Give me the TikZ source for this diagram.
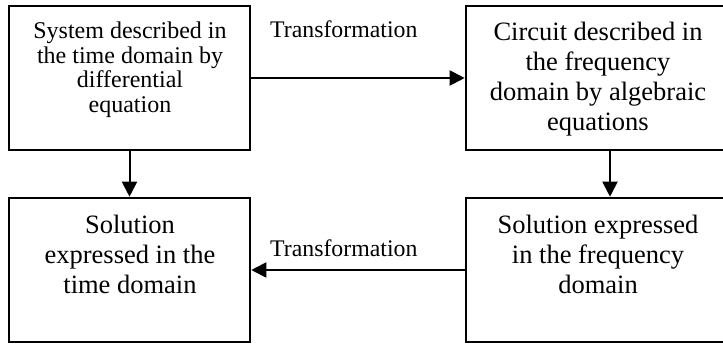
\documentclass[tikz,border=0pt]{standalone}
\usepackage{fontspec}
\setmainfont{Liberation Serif}
\usetikzlibrary{arrows.meta}
\begin{document}
\begin{tikzpicture}[x=1pt,y=-1pt]
  
  \tikzset{block/.style = {shape=rectangle,draw,line width=2.6pt,inner sep=0pt}}
  \tikzset{txt/.style = {align=center,inner sep=0pt,anchor=base,font=\fontsize{26.5}{30}\selectfont}}
  \tikzset{edge/.style = {-{Triangle[length=15pt,width=15pt]},line width=2pt}}
  \useasboundingbox (0,0) rectangle (723,343);
  % blocks
  \node[block,minimum width=241pt,minimum height=144pt] (a) at (129.5,78)  {};
  \node[block,minimum width=264pt,minimum height=144pt] (b) at (598,78)    {};
  \node[block,minimum width=241pt,minimum height=144pt] (c) at (129.5,270) {};
  \node[block,minimum width=264pt,minimum height=144pt] (d) at (598,270)   {};
  % texts (placed by their last line)
  \node[txt,font=\fontsize{24}{24.4}\selectfont] (ta) at (130,112)
    {System described in\\the time domain by\\differential\\equation};
  \node[txt] (tb) at (598,130) {Circuit described in\\the frequency\\domain by algebraic\\equations};
  \node[txt] (tc) at (130,293) {Solution\\expressed in the\\time domain};
  \node[txt] (td) at (598,293) {Solution expressed\\in the frequency\\domain};
  \node[anchor=base west,inner sep=0pt,font=\fontsize{23.8}{28}\selectfont] (la) at (270,37) {Transformation};
  \node[anchor=base west,inner sep=0pt,font=\fontsize{23.8}{28}\selectfont] (lb) at (270,256) {Transformation};
  %edges
  \draw[edge] (a) -- (b);
  \draw[edge] (d) -- (c);
  \draw[edge] (a) -- (c);
  \draw[edge] ([xshift=12pt]b.south) -- ([xshift=12pt]d.north);
\end{tikzpicture}
\end{document}
